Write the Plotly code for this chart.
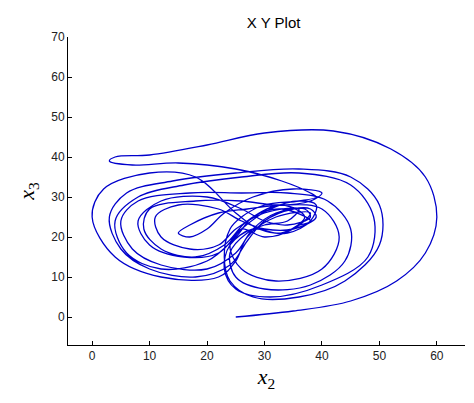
import plotly.graph_objects as go

x2 = [25,35,45,53,58,60,58,52,42,30,20,10,4,3,7,15,25,33,38,39,36,30,26,24,23,24,28,36,44,50,50,45,36,25,14,6,3,5,10,18,24,27,30,35,38,39,35,30,26,22,15,11,12,17,22,25,30,36,34,30,27,24,25,30,38,44,45,41,34,26,17,8,5,7,12,20,25,28,32,37,38,34,30,26,20,12,8,10,16,22,26,31,36,39,38,34,29,25,18,10,2,0,4,12,22,25,27,32,38,35,30,26,24,26,32,40,43,40,33,27,22,17,15,17,20,23,28,35,40,38,32,26,18,10,9,12,18,23,27,33,37,33,28,24,23,25,31,40,48,49,45,36,26,16,8,4,6,12,20,25,28,33,38,36,31]
x3 = [0,1.5,4,9,16,25,35,42,46.5,46,43,40.5,40,39,38,38.5,37,34,31,30,29,28,25,22,15,9,5,5,9,18,28,35,37,36,34,31,25,17,12,10,13,19,24,27,27,25,22,22,24,27,28,25,20,17,18,22,26,27,24,23,21,16,10,7,8,14,22,29,31,31,31,29,24,17,13,12,16,22,26,27,25,23,24,27,30,29,24,18,15,16,22,27,29,28,24,21,22,26,35,36,32,25,15,10,10,14,20,25,26,22,20,22,18,12,9,12,20,27,28,27,26,23,21,20,22,26,30,32,31,29,28,29,29,27,22,17,15,18,24,28,25,21,22,18,12,7,5,8,15,25,33,36,35,33,30,24,16,12,14,20,25,27,24,23]

fig = go.Figure(go.Scatter(x=x2, y=x3, mode="lines", line=dict(color="#0000cc", width=1.3, shape="spline", smoothing=1.0)))
ax = dict(showgrid=False, zeroline=False, showline=True, linecolor="black", linewidth=1,
          ticks="inside", ticklen=4, tickcolor="black", mirror=False, automargin=False,
          tickfont=dict(family="Liberation Sans, Arial", size=12, color="#222"))
fig.update_layout(
    width=466, height=395, plot_bgcolor="white", paper_bgcolor="white",
    margin=dict(l=60, r=9, t=29, b=58), showlegend=False,
    title=dict(text="X Y Plot", x=0.57, xanchor="center", y=0.975, yanchor="top",
               font=dict(family="Liberation Sans, Arial", size=15, color="black")),
    xaxis=dict(ax, range=[-4.2, 64.9], tickvals=[0,10,20,30,40,50,60],
               title=dict(text="<i>x</i><sub>2</sub>", standoff=6,
                          font=dict(family="Liberation Serif, Times New Roman", size=22, color="black"))),
    yaxis=dict(ax, range=[-7, 70], tickvals=[0,10,20,30,40,50,60,70],
               title=dict(text="<i>x</i><sub>3</sub>", standoff=10,
                          font=dict(family="Liberation Serif, Times New Roman", size=22, color="black"))),
)
fig.write_html("out.html")
